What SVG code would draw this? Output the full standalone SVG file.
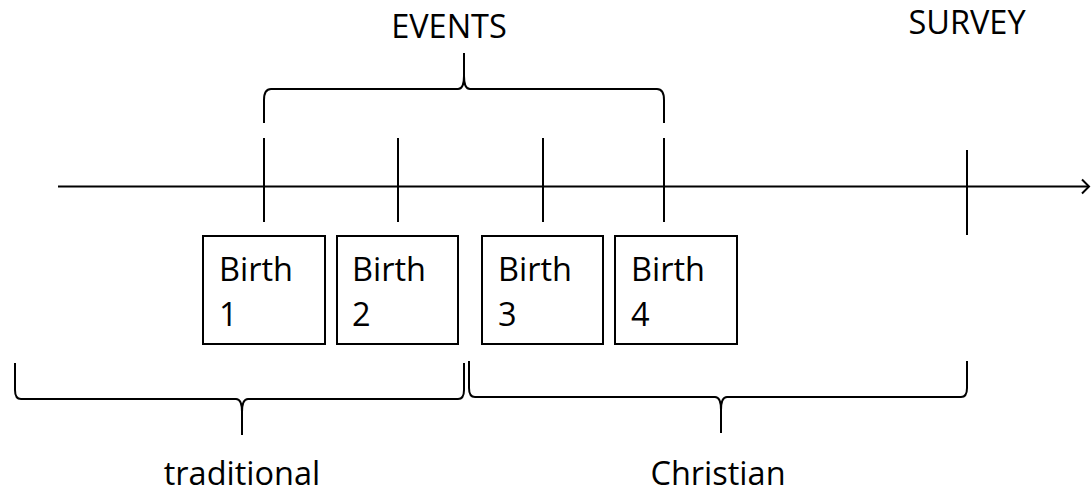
<svg xmlns="http://www.w3.org/2000/svg" width="1091" height="496" viewBox="0 0 1091 496">
<defs>
<style>
.ln{fill:none;stroke:#000;stroke-width:2;stroke-linecap:butt;stroke-linejoin:round}
.box{fill:#fff;stroke:#000;stroke-width:2}
.t{font-family:"Open Sans","Liberation Sans",sans-serif;font-size:32.5px;fill:#000}
</style>
<marker id="arr" markerWidth="12" markerHeight="18" refX="9" refY="9" orient="auto" markerUnits="userSpaceOnUse">
<path d="M2,2 L9,9 L2,16" fill="none" stroke="#000" stroke-width="2"/>
</marker>
</defs>
<rect width="1091" height="496" fill="#fff"/>
<g id="connectors">
<line class="ln" x1="58" y1="186.5" x2="1089" y2="186.5" marker-end="url(#arr)"/>
<line class="ln" x1="264" y1="138" x2="264" y2="222"/>
<line class="ln" x1="398" y1="138" x2="398" y2="222"/>
<line class="ln" x1="543" y1="138" x2="543" y2="222"/>
<line class="ln" x1="664" y1="138" x2="664" y2="222"/>
<line class="ln" x1="967" y1="150" x2="967" y2="235"/>
</g>
<g id="brace-events">
<path class="ln" d="M264,123 L264,100 Q264,89 271,89 L458,89 Q464,89 464,76 L464,53 M664,123 L664,100 Q664,89 657,89 L470,89 Q464,89 464,76"/>
</g>
<g id="brace-traditional">
<path class="ln" d="M15,363 L15,390 Q15,399 21,399 L236,399 Q242,399 242,412 L242,435 M464,363 L464,390 Q464,399 458,399 L248,399 Q242,399 242,412"/>
</g>
<g id="brace-christian">
<path class="ln" d="M469,361 L469,388 Q469,397 475,397 L715,397 Q721,397 721,410 L721,433 M967,361 L967,388 Q967,397 961,397 L727,397 Q721,397 721,410"/>
</g>
<g id="birth1">
<rect class="box" x="203" y="236" width="122" height="108"/>
<text class="t" x="219" y="281">Birth</text>
<text class="t" x="219" y="326">1</text>
</g>
<g id="birth2">
<rect class="box" x="337" y="236" width="121" height="108"/>
<text class="t" x="352" y="281">Birth</text>
<text class="t" x="352" y="326">2</text>
</g>
<g id="birth3">
<rect class="box" x="482" y="236" width="121" height="108"/>
<text class="t" x="498" y="281">Birth</text>
<text class="t" x="498" y="326">3</text>
</g>
<g id="birth4">
<rect class="box" x="615" y="236" width="122" height="108"/>
<text class="t" x="631" y="281">Birth</text>
<text class="t" x="631" y="326">4</text>
</g>
<g id="labels">
<text class="t" x="449" y="38" text-anchor="middle">EVENTS</text>
<text class="t" x="967" y="34" text-anchor="middle">SURVEY</text>
<text class="t" x="242" y="485" text-anchor="middle">traditional</text>
<text class="t" x="718" y="485" text-anchor="middle">Christian</text>
</g>
</svg>
